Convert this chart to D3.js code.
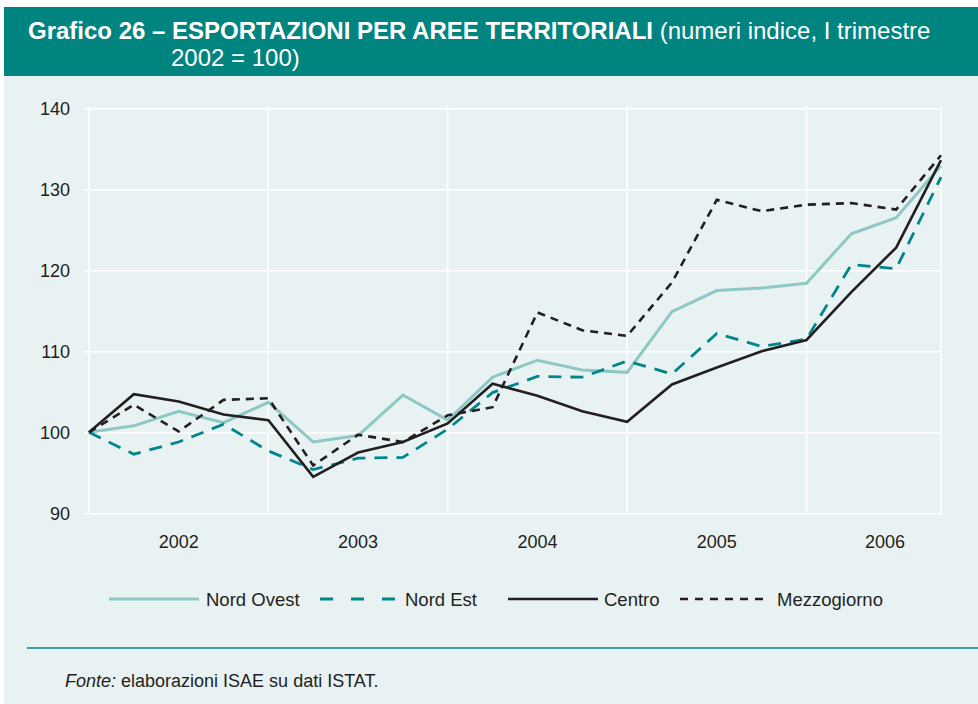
<!DOCTYPE html>
<html>
<head>
<meta charset="utf-8" />
<title>Esportazioni per aree territoriali</title>
<style>
  body { margin: 0; background: #ffffff; }
  svg { display: block; font-family: "Liberation Sans", Arial, Helvetica, sans-serif; }
</style>
</head>
<body>
<div id="chart"></div>
<script src="https://d3js.org/d3.v7.min.js"></script>
<script>
// quarters, I 2002 - IV 2006
var years = ["2002", "2003", "2004", "2005", "2006"];
var quarters = ["I", "II", "III", "IV"];
var yTicks = [90, 100, 110, 120, 130, 140];

var nordOvest   = [100, 100.8, 102.6, 101.2, 103.7, 98.8, 99.6, 104.6, 101.5, 106.8, 108.9, 107.7, 107.4, 114.9, 117.5, 117.8, 118.4, 124.5, 126.5, 132.9];
var nordEst     = [100, 97.3, 98.8, 101.0, 97.7, 95.4, 96.8, 96.9, 100.4, 104.9, 106.9, 106.8, 108.8, 107.2, 112.2, 110.6, 111.5, 120.7, 120.2, 131.5];
var centro      = [100, 104.7, 103.8, 102.2, 101.5, 94.5, 97.5, 98.8, 101.1, 106.0, 104.5, 102.6, 101.3, 105.9, 108.0, 110.0, 111.4, 117.3, 122.8, 133.6];
var mezzogiorno = [100, 103.4, 100.1, 104.0, 104.2, 95.9, 99.7, 98.8, 102.1, 103.1, 114.8, 112.6, 111.9, 118.5, 128.7, 127.3, 128.1, 128.3, 127.5, 134.2];

var seriesNames = ["Nord Ovest", "Nord Est", "Centro", "Mezzogiorno"];

var W = 978, H = 704;
var teal = "#00847f", panel = "#e8f2f3", ink = "#231f20";

var svg = d3.select("#chart").append("svg")
  .attr("width", W).attr("height", H);

// background panel + title bar
svg.append("rect").attr("x", 4).attr("y", 76).attr("width", W - 4).attr("height", H - 76).attr("fill", panel);
svg.append("rect").attr("x", 4).attr("y", 7).attr("width", W - 4).attr("height", 69).attr("fill", teal);

var title = svg.append("text").attr("x", 28).attr("y", 39)
  .attr("fill", "#ffffff").style("font-size", "24px");
title.append("tspan").attr("font-weight", "bold").text("Grafico 26 \u2013 ESPORTAZIONI PER AREE TERRITORIALI");
title.append("tspan").text(" (numeri indice, I trimestre");
svg.append("text").attr("x", 171).attr("y", 66).attr("fill", "#ffffff")
  .style("font-size", "24px").text("2002 = 100)");

// plot area
var plotL = 89, plotR = 941, plotT = 108.3, plotB = 513.3;
var n = years.length * quarters.length;

var x = d3.scaleLinear().domain([0, n - 1]).range([plotL, plotR]);
var y = d3.scaleLinear().domain([90, 140]).range([plotB, plotT]);

var grid = svg.append("g");
// vertical grid at start of each year + right border
var vIdx = years.map(function(d, i) { return i * 4; }).concat([n - 1]);
grid.selectAll("line").data(vIdx).enter().append("line")
  .attr("x1", function(d) { return x(d); }).attr("x2", function(d) { return x(d); })
  .attr("y1", plotT - 2).attr("y2", plotB + 1)
  .attr("stroke", "#ffffff").attr("stroke-width", 1.5);

var yAxis = d3.axisLeft(y).tickValues(yTicks).tickSize(0).tickPadding(14);
var ya = svg.append("g").attr("transform", "translate(" + (plotL - 5) + ",0)").call(yAxis);
ya.select(".domain").remove();
ya.selectAll(".tick line").attr("x2", plotR - plotL + 5)
  .attr("stroke", "#ffffff").attr("stroke-width", 1.5);
ya.selectAll(".tick text").attr("fill", ink).attr("x", -14)
  .style("font-size", "18px")
  .style("font-family", "\"Liberation Sans\", Arial, sans-serif");

// year labels
var step = x(1) - x(0);
svg.append("g").selectAll("text").data(years).enter().append("text")
  .attr("x", function(d, i) {
    var a = x(i * 4);
    var b = Math.min(x(i * 4 + 4), x(n - 1) + step / 2);
    return (a + b) / 2;
  })
  .attr("y", 548).attr("text-anchor", "middle")
  .attr("fill", ink).style("font-size", "18px").text(function(d) { return d; });

var styles = {
  "Nord Ovest":  { data: nordOvest,   color: "#8ec8c5", width: 3,   dash: null },
  "Nord Est":    { data: nordEst,     color: "#00868a", width: 2.8, dash: "13,9" },
  "Mezzogiorno": { data: mezzogiorno, color: ink,       width: 2.6, dash: "8,6" },
  "Centro":      { data: centro,      color: ink,       width: 2.6, dash: null }
};

var line = d3.line().x(function(d, i) { return x(i); }).y(function(d) { return y(d); });

["Nord Ovest", "Nord Est", "Mezzogiorno", "Centro"].forEach(function(name) {
  var s = styles[name];
  svg.append("path").datum(s.data)
    .attr("d", line)
    .attr("fill", "none")
    .attr("stroke", s.color)
    .attr("stroke-width", s.width)
    .attr("stroke-dasharray", s.dash);
});

// legend
var legendPos = [
  { x1: 109, x2: 199, tx: 206 },
  { x1: 320, x2: 395, tx: 405 },
  { x1: 508, x2: 598, tx: 604 },
  { x1: 680, x2: 766, tx: 777 }
];
var legendDash = { "Nord Est": "13,18", "Mezzogiorno": "8,7" };
var lg = svg.append("g");
seriesNames.forEach(function(name, i) {
  var s = styles[name], p = legendPos[i];
  lg.append("line").attr("x1", p.x1).attr("x2", p.x2).attr("y1", 599).attr("y2", 599)
    .attr("stroke", s.color).attr("stroke-width", s.width)
    .attr("stroke-dasharray", legendDash[name] || null);
  lg.append("text").attr("x", p.tx).attr("y", 606).attr("fill", ink)
    .style("font-size", "18.5px").text(name);
});

// footer
svg.append("line").attr("x1", 27).attr("x2", W).attr("y1", 648).attr("y2", 648)
  .attr("stroke", "#3ea3a2").attr("stroke-width", 2);
var fonte = svg.append("text").attr("x", 65).attr("y", 687).attr("fill", ink).style("font-size", "18px");
fonte.append("tspan").attr("font-style", "italic").text("Fonte:");
fonte.append("tspan").text(" elaborazioni ISAE su dati ISTAT.");
</script>
</body>
</html>
